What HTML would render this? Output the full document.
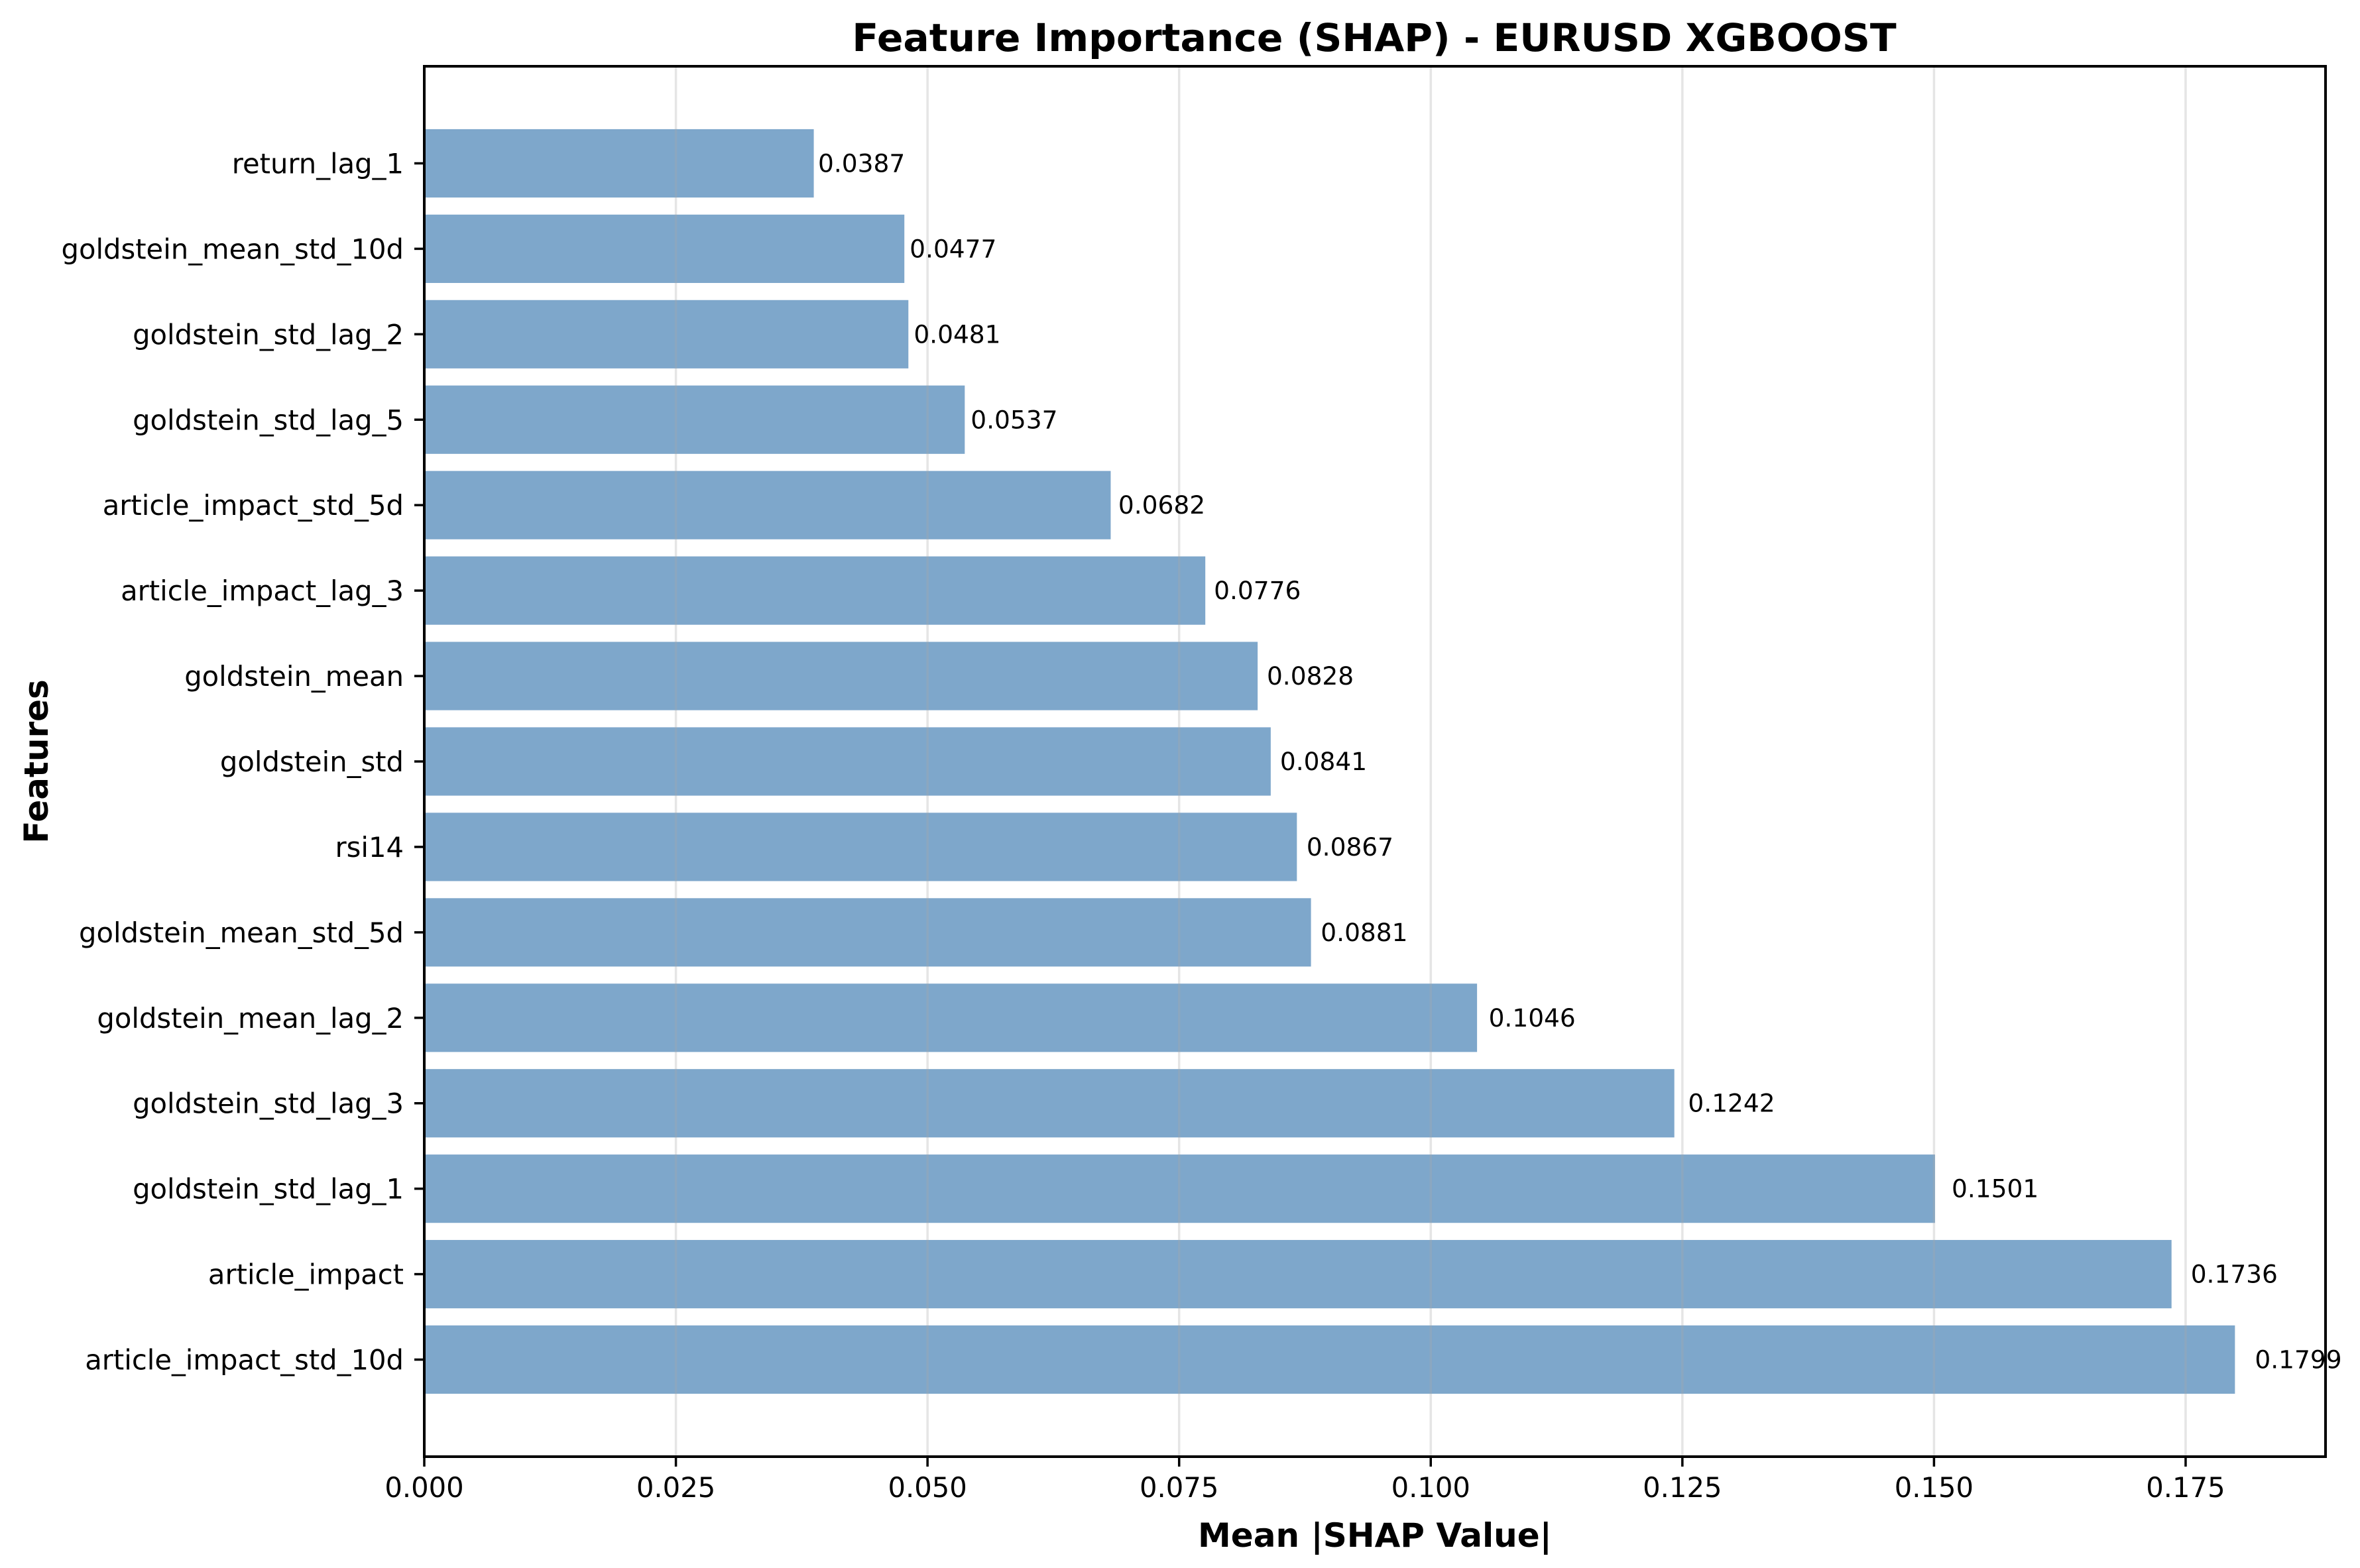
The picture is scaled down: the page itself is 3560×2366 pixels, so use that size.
<!DOCTYPE html>
<html><head><meta charset="utf-8"><style>
html,body{margin:0;padding:0;background:#fff;}
svg{display:block;font-family:"DejaVu Sans","Liberation Sans",sans-serif;}
</style></head><body>
<svg id="chart" width="3560" height="2366" viewBox="0 0 3560 2366" xmlns="http://www.w3.org/2000/svg">
<rect width="3560" height="2366" fill="#fff"/>
<text x="2073" y="77" font-size="58.3" font-weight="bold" text-anchor="middle">Feature Importance (SHAP) - EURUSD XGBOOST</text>
<g id="bars"></g>
<g id="grid"></g>
<g id="ticks"></g>
<g id="labels"></g>
<rect x="640" y="100" width="2868" height="2098" fill="none" stroke="#000" stroke-width="4"/>
<text x="2074" y="2334" font-size="50" font-weight="bold" text-anchor="middle">Mean |SHAP Value|</text>
<text x="0" y="0" font-size="50" font-weight="bold" text-anchor="middle" transform="translate(72,1149) rotate(-90)">Features</text>
</svg>
<script>
const features = ["return_lag_1","goldstein_mean_std_10d","goldstein_std_lag_2","goldstein_std_lag_5","article_impact_std_5d","article_impact_lag_3","goldstein_mean","goldstein_std","rsi14","goldstein_mean_std_5d","goldstein_mean_lag_2","goldstein_std_lag_3","goldstein_std_lag_1","article_impact","article_impact_std_10d"];
const values = [0.0387,0.0477,0.0481,0.0537,0.0682,0.0776,0.0828,0.0841,0.0867,0.0881,0.1046,0.1242,0.1501,0.1736,0.1799];
const xTicks = [0,0.025,0.05,0.075,0.1,0.125,0.15,0.175];
const xTickLabels = ["0.000","0.025","0.050","0.075","0.100","0.125","0.150","0.175"];

const L=640,R=3508,T=100,B=2198;
const xMax=0.1889;
const x=v=>L+v/xMax*(R-L);
const n=features.length;
const yMin=-1.136,yMax=n-1+1.136;
const y=i=>T+(i-yMin)/(yMax-yMin)*(B-T);
const unit=(B-T)/(yMax-yMin);
const NS="http://www.w3.org/2000/svg";
function mk(tag,attrs,parent){const e=document.createElementNS(NS,tag);for(const k in attrs)e.setAttribute(k,attrs[k]);parent.appendChild(e);return e;}
const gb=document.getElementById('bars'),gg=document.getElementById('grid'),gt=document.getElementById('ticks'),gl=document.getElementById('labels');
features.forEach((f,i)=>{
  const cy=y(i),h=unit*0.8;
  const r=mk('rect',{x:L,y:cy-h/2,width:x(values[i])-L,height:h,fill:'#7ea7cb'},gb);
  
  
  const t=mk('text',{x:x(values[i]*1.011),y:cy+13,'font-size':37.5},gl);
  t.textContent=values[i].toFixed(4);
  
  
  const tk=mk('line',{x1:L-15,x2:L,y1:cy,y2:cy,stroke:'#000','stroke-width':3.5},gt);
  
  
  const yl=mk('text',{x:L-31,y:cy+15,'font-size':41.7,'text-anchor':'end'},gt);
  yl.textContent=f;
  
  
});
xTicks.forEach((v,i)=>{
  const gx=x(v);
  const gline=mk('line',{x1:gx,x2:gx,y1:T,y2:B,stroke:'rgba(170,170,170,0.3)','stroke-width':3.5},gg);
  
  
  const tk=mk('line',{x1:gx,x2:gx,y1:B,y2:B+15,stroke:'#000','stroke-width':3.5},gt);
  
  
  const tl=mk('text',{x:gx,y:B+61,'font-size':41.7,'text-anchor':'middle'},gt);
  tl.textContent=xTickLabels[i];
  
  
});
</script>
</body></html>
